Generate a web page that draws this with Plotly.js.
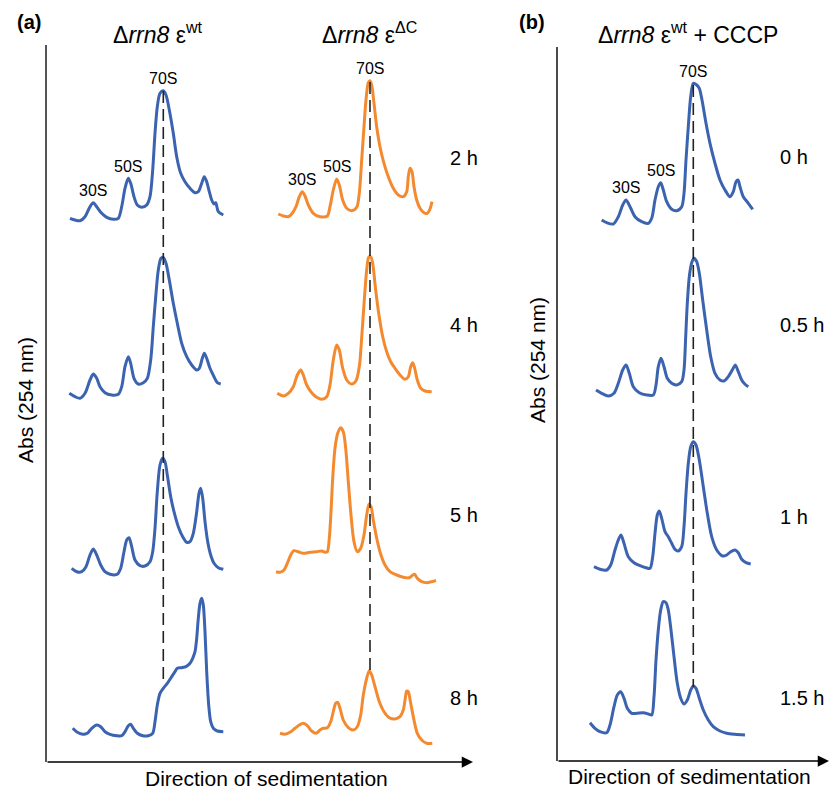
<!DOCTYPE html>
<html>
<head>
<meta charset="utf-8">
<script src="https://cdn.plot.ly/plotly-3.0.1.min.js"></script>
<style>
  html, body { margin: 0; padding: 0; background: #fff; }
  #chart { width: 838px; height: 790px; }
</style>
</head>
<body>
<div id="chart"></div>
<script>
// Polysome / ribosome profiles (A254) along the sucrose gradient.
// Position is in gradient units (0 = top), absorbance in arbitrary units.

// (a) Δrrn8 ε-wt
const wt2hPos = [10,15,20,25,30,33.3,36.7,41.7,46.7,53.3,58.3,61.7,65,68.3,70.7,74,77.3,81.7,86.7,90,92.7,95,97.3,100,103.3,106,109.3,113.3,116.7,120.7,125,130,135,138.3,141.7,144.3,146.7,149.3,151.7,154,155.7,158.3,163.3];
const wt2hAbs = [11.7,10,9.3,13.3,23.3,27.3,23.3,16.7,12.7,10.7,11.7,23.3,41.7,51.7,46.7,33.3,25,22.7,25,33.3,60,96.7,123.3,136.7,139.3,135,120,96.7,73.3,56.7,48.3,41.7,37.3,38.3,46.7,53.3,48.3,38.3,30,26,27.3,18.3,15];

const wt4hPos = [9.3,15,20,25,30,33.3,36.7,40,45,51.7,58.3,61.7,65,68.3,70.7,74,78.3,83.3,87.3,90.7,93.3,96,98.3,101,103.3,106,109.3,113.3,117.3,121.7,126.7,131.7,136.7,139.3,142.3,144.3,146.7,150,154,157.3,160.7];
const wt4hAbs = [16.7,13.3,11.7,16.7,30,36,31.7,23.3,17.3,15,15.7,23.3,43.3,53.3,46.7,31.7,26,27.3,31.7,50,83.3,116.7,140,151.7,152.7,146.7,130,106.7,86.7,66.7,53.3,45,40,41.7,51.7,56.7,51.7,41.7,33.3,27.3,26];

const wt5hPos = [11.7,16.7,21.7,26,30,33.3,36.7,40.7,45,50,57.3,60.7,64,66.7,69,71.7,75,80,85,90,92.7,95,97.3,100,102.7,105,107.3,110.7,114,118.3,122.7,126.7,130,133.3,136.7,139,140.7,142.7,145,147.7,150.7,154,158.3,163.3];
const wt5hAbs = [21.7,18.3,18.3,23.3,35,41,35,25,18.3,15.7,15.7,21.7,38.3,50,52.3,43.3,30,24.3,24,28.3,38.3,61.7,98.3,125,131.7,128.3,115,93.3,78.3,63.3,53.3,47.7,48.3,56.7,78.3,96.7,101.7,91.7,68.3,48.3,35,26.7,22.3,20.7];

const wt8hPos = [12.7,17.3,22.7,27.3,31.7,36.7,40.7,45,50,56.7,61.7,65,68.3,70.7,73.3,77.3,82.7,88.3,92.7,95,97.3,100,103.3,107.3,111.7,115,117.3,121.7,126,130,132.7,135,136.7,138.3,140,141.7,143.3,145,146.7,148.7,150.7,153.3,157.3,163.3];
const wt8hAbs = [31.7,27.7,25.7,26.7,31.7,35,33.3,28.3,25.7,24.3,24.3,28.3,34.3,35.7,31.7,26.7,24.3,24.3,26.7,38.3,55,66.7,71.7,76.7,83.3,88.3,91.7,92.3,93.3,96.7,101.7,108.3,121.7,141.7,156.7,161.7,155,128.3,88.3,55,38.3,31.7,29,28.3];

// (a) Δrrn8 ε-ΔC
const dc2hPos = [8.3,13.3,18.3,21.7,26,29.3,32.3,35,38.3,43.3,50,57.3,60,63.3,66.7,69.3,72.7,76.7,81.7,86.7,89.3,91.7,94,96,98.3,100,101.7,104,106.7,110,114,118.3,123.3,128.3,133.3,136.7,138.3,140,142,144,146.7,150,154,157.3,160,162];
const dc2hAbs = [16,14,13.3,16,23.3,33.3,38.3,34,25,16.7,13.3,14,23.3,40,51,45,30,21.7,19.3,22.7,36.7,70,103.3,130,147.3,149.3,145,126.7,103.3,83.3,66.7,53.3,41.7,35,33.3,38.3,53.3,61.7,58.3,43.3,30,21.7,17.3,16.7,21,28.3];

const dc4hPos = [7.3,13.3,18.3,23.3,27.3,30.7,33.3,36.7,41.7,46.7,51.7,56.7,60,63.3,66.7,69.3,72.7,76.7,81.7,86,89.3,92,94.3,96.7,98.7,100.7,102.7,105.3,108.7,112.7,116.7,120.7,125,130,135,138.3,140.7,142.7,144.7,147.3,150.7,155,161.7];
const dc4hAbs = [16.7,14,16.7,23.3,35,40,35,25,17.3,12.7,10.7,13.3,25,50,65,60,41.7,30,26,29.3,43.3,76.7,110,140,152.7,153.3,146.7,123.3,96.7,73.3,58.3,48.3,41.7,35,30.7,33.3,43.3,47.3,41.7,30,21.7,19,18.3];

const dc5hPos = [6,10,14,17.3,20.7,24,28.3,33.3,40,46.7,51.7,55,57.3,59.3,61,62.7,65,67.7,70.7,73.3,75.7,78.3,81,84,87.3,90.7,94,96.7,99,101,103.3,106.7,110.7,115,120,126.7,133.3,139.3,142.7,144.7,147.3,151.7,156.7,161.7,166];
const dc5hAbs = [18.3,17.7,20,26.7,35,39.3,38.3,36.7,37.7,38.3,39,37.7,38.3,51.7,78.3,111.7,141.7,156.7,162.3,158.3,141.7,108.3,75,48.3,38.3,41.7,55,75,85.7,83.3,70,51.7,35.7,25,18.3,15,12.7,12.3,15,15.7,11.7,8.3,7.3,8.3,9.7];

const dc8hPos = [10,15,20,25,29.3,33.3,37.3,41.7,46,50,53.3,57.3,60.7,63.3,65.7,67.7,70,73.3,78.3,83.3,87.3,90.7,93.3,96.7,99.3,101.7,105,109.3,114,119.3,125,130,133.3,135.3,136.7,138.3,140.7,144,147.3,151.7,156.7,162.3];
const dc8hAbs = [26.7,25.7,27.7,31.7,35,36.7,34.3,29,26.7,30,31.7,32.3,38.3,48.3,56.7,57.7,51.7,40,32.3,30,33.3,45,65,81.7,89.3,85,73.3,58.3,48.3,42.3,41,43.3,50,61.7,69,68.3,56.7,40,26.7,20,16.7,16.7];

// (b) Δrrn8 ε-wt + CCCP
const cc0hPos = [21.7,26.7,33.3,38.3,42.7,46,50,55,61.7,68.3,71.7,75,78.3,80.7,83.3,86.7,91.7,96.7,101.7,104,106,108.3,110.7,113.3,116.7,119.3,122,126,130,135,140,145,150,153.3,156,158,160,163.3,168.3,172.7];
const cc0hAbs = [10,7.3,6,13.3,25,30,23.3,13.3,8.3,6.7,11.7,30,43.3,47.3,40,28.3,20.7,19.3,23.3,36.7,70,103.3,133.3,146.7,145,141.7,130,106.7,86.7,66.7,50,40,33.3,38.3,48.3,50,43.3,33.3,26.7,20.7];

const cc05hPos = [16,21.7,28.3,34,38.3,42.7,46,49.3,53.3,59.3,66.7,73.3,76,78.3,81,84,87.3,91.7,96.7,101.7,104,105.7,107.3,109.3,111.7,114,116.7,119.3,122.7,126.7,130.7,135,140,144,148.3,152.7,155.3,158.3,161.7,165,168.3];
const cc05hAbs = [10,6.7,4,6.7,16.7,30,35,26.7,13.3,7.3,5,5,15,33.3,41.7,33.3,21.7,16.7,15,18.3,30,63.3,96.7,123.3,137.3,141.7,138.3,126.7,100,70,43.3,26.7,20,19,23.3,30.7,35,28.3,20,15.7,13.3];

const cc1hPos = [14,20,26.7,30.7,35,38.3,41,44,48.3,54,60,66,70,72.7,75,77.3,79.3,81.7,85,88.3,91.7,95,98.3,101.7,104,106,108.3,110.7,113.3,116,119.3,123.3,127.3,131.7,136.7,142.7,146.7,150.7,155,158.3,161.7,166,170.7];
const cc1hAbs = [13.3,10.7,10,15,30,40,45,36.7,23.3,17.3,14.3,12.3,11.7,23.3,46.7,65,69,61.7,48.3,43.3,36.7,30.7,29,33.3,53.3,86.7,116.7,133.3,138.3,135,120,93.3,66.7,43.3,30,24,25,28.3,30,27.3,20.7,17.3,16];

const cc15hPos = [10,15,20,26.7,30,34,37.3,40.7,44,47.3,51.7,56.7,63.3,68.3,71.7,74,76,78.3,80.7,83.3,86,88.3,91,94,97.3,100.7,104,107.3,110.7,113.3,116,119.3,123.3,128.3,133.3,140,146.7,155,165];
const cc15hAbs = [37.3,31.7,28.3,27.3,35,53.3,65,68.3,61.7,51.7,46.7,46.7,47.3,46,45,63.3,100,130,150,158.3,157.3,150,130,103.3,76.7,61.7,56,60,70,74,71.7,61.7,50,40,33.3,29,26.7,25.7,25];

const timesA = ['2 h', '4 h', '5 h', '8 h'];
const timesB = ['0 h', '0.5 h', '1 h', '1.5 h'];
const bands = ['30S', '50S', '70S'];

// ---------- layout helpers (page is 838 x 790 px, no margins) ----------
const W = 838, H = 790;
const BLUE = '#3b63b0', ORANGE = '#f48a30';
const FONT = 'Liberation Sans, Arial, Helvetica, sans-serif';
const px = v => v / W;
const py = v => 1 - v / H;

// one x axis per column, one y axis per row; 1 unit = 1 px
const xAxis = (l, r, anchor) => ({domain: [px(l), px(r)], range: [0, r - l], visible: false, fixedrange: true, anchor});
const yAxis = (t, b, anchor) => ({domain: [py(b), py(t)], range: [0, b - t], visible: false, fixedrange: true, anchor});

const profiles = [
  [wt2hPos, wt2hAbs, 'x', 'y', BLUE],
  [wt4hPos, wt4hAbs, 'x', 'y2', BLUE],
  [wt5hPos, wt5hAbs, 'x', 'y3', BLUE],
  [wt8hPos, wt8hAbs, 'x', 'y4', BLUE],
  [dc2hPos, dc2hAbs, 'x2', 'y', ORANGE],
  [dc4hPos, dc4hAbs, 'x2', 'y2', ORANGE],
  [dc5hPos, dc5hAbs, 'x2', 'y3', ORANGE],
  [dc8hPos, dc8hAbs, 'x2', 'y4', ORANGE],
  [cc0hPos, cc0hAbs, 'x3', 'y5', BLUE],
  [cc05hPos, cc05hAbs, 'x3', 'y6', BLUE],
  [cc1hPos, cc1hAbs, 'x3', 'y7', BLUE],
  [cc15hPos, cc15hAbs, 'x3', 'y8', BLUE]
];

const traces = profiles.map(([x, y, xa, ya, c]) => ({
  type: 'scatter', mode: 'lines', x, y, xaxis: xa, yaxis: ya,
  line: {color: c, width: 3, shape: 'spline', smoothing: 0.8},
  cliponaxis: false, hoverinfo: 'skip'
}));

// highest point of a profile near a given position
function peakNear(xs, ys, x0, win) {
  let best = -1;
  xs.forEach((x, i) => {
    if (Math.abs(x - x0) <= win && (best < 0 || ys[i] > ys[best])) best = i;
  });
  return {x: xs[best], y: ys[best]};
}
function topPeak(xs, ys) {
  let best = 0;
  ys.forEach((v, i) => { if (v > ys[best]) best = i; });
  return xs[best];
}

const annotations = [];
const txt = (text, x, y, size, extra) => annotations.push(Object.assign({
  text, x, y, xref: 'paper', yref: 'paper', showarrow: false,
  font: {family: FONT, size, color: '#000'}, xanchor: 'center', yanchor: 'middle'
}, extra || {}));

// panel letters and titles
txt('<b>(a)</b>', px(29), py(22), 20);
txt('<b>(b)</b>', px(532), py(22), 20);
txt('Δ<i>rrn8</i> ε<sup>wt</sup>', px(158), py(33), 23);
txt('Δ<i>rrn8</i> ε<sup>ΔC</sup>', px(370), py(33), 23);
txt('Δ<i>rrn8</i> ε<sup>wt</sup> + CCCP', px(688), py(33), 23);

// axis titles
txt('Abs (254 nm)', px(25), py(400), 21, {textangle: -90});
txt('Abs (254 nm)', px(537), py(360), 21, {textangle: -90});
txt('Direction of sedimentation', px(266), py(778), 21);
txt('Direction of sedimentation', px(689), py(776), 21);

// time points
const rowMidA = [158, 325, 515, 698];
const rowMidB = [157, 325, 517, 698];
timesA.forEach((t, i) => txt(t, px(448), py(rowMidA[i]), 20, {xanchor: 'left'}));
timesB.forEach((t, i) => txt(t, px(778), py(rowMidB[i]), 20, {xanchor: 'left'}));

// band labels above the first profile of each column
const bandLabel = (xs, ys, xa, ya, guesses) => bands.forEach((b, i) => {
  const p = peakNear(xs, ys, guesses[i], 8);
  annotations.push({
    text: b, x: p.x, y: p.y, xref: xa, yref: ya, showarrow: false,
    yshift: 12, xanchor: 'center', yanchor: 'middle',
    font: {family: FONT, size: 16, color: '#000'}
  });
});
bandLabel(wt2hPos, wt2hAbs, 'x', 'y', [33, 68, 102]);
bandLabel(dc2hPos, dc2hAbs, 'x2', 'y', [32, 67, 100]);
bandLabel(cc0hPos, cc0hAbs, 'x3', 'y5', [46, 80, 114]);

// sedimentation arrows
const arrow = (tipX, y, tailX) => annotations.push({
  x: px(tipX), y: py(y), xref: 'paper', yref: 'paper', text: '',
  showarrow: true, ax: -(tipX - tailX), ay: 0, axref: 'pixel', ayref: 'pixel',
  arrowhead: 2, arrowsize: 1.5, arrowwidth: 1.5, arrowcolor: '#000'
});
arrow(473, 762, 46);
arrow(829, 761, 557);

// 70S reference lines through the first profile peak of each column
const dashed = (xa, xs, ys, top, bottom) => ({
  type: 'line', xref: xa, yref: 'paper',
  x0: topPeak(xs, ys), x1: topPeak(xs, ys), y0: py(top), y1: py(bottom),
  line: {color: '#222', width: 1.6, dash: '12px,6px'}
});

const shapes = [
  dashed('x', wt2hPos, wt2hAbs, 91, 684),
  dashed('x2', dc2hPos, dc2hAbs, 82, 670),
  dashed('x3', cc0hPos, cc0hAbs, 85, 687),
  // vertical axes
  {type: 'line', xref: 'paper', yref: 'paper', x0: px(46), x1: px(46), y0: py(45), y1: py(762),
   line: {color: '#555', width: 2}},
  {type: 'line', xref: 'paper', yref: 'paper', x0: px(557), x1: px(557), y0: py(47), y1: py(761),
   line: {color: '#111', width: 1.5}}
];

const layout = {
  width: W, height: H,
  margin: {l: 0, r: 0, t: 0, b: 0},
  paper_bgcolor: '#fff', plot_bgcolor: 'rgba(0,0,0,0)',
  showlegend: false,
  font: {family: FONT},
  xaxis: xAxis(60, 240, 'y'),
  xaxis2: xAxis(270, 450, 'y'),
  xaxis3: xAxis(580, 760, 'y5'),
  yaxis: yAxis(60, 230, 'x'),
  yaxis2: yAxis(240, 410, 'x'),
  yaxis3: yAxis(410, 590, 'x'),
  yaxis4: yAxis(590, 760, 'x'),
  yaxis5: yAxis(60, 230, 'x3'),
  yaxis6: yAxis(230, 400, 'x3'),
  yaxis7: yAxis(400, 580, 'x3'),
  yaxis8: yAxis(580, 760, 'x3'),
  annotations, shapes
};

Plotly.newPlot('chart', traces, layout, {staticPlot: true, displayModeBar: false});
</script>
</body>
</html>
